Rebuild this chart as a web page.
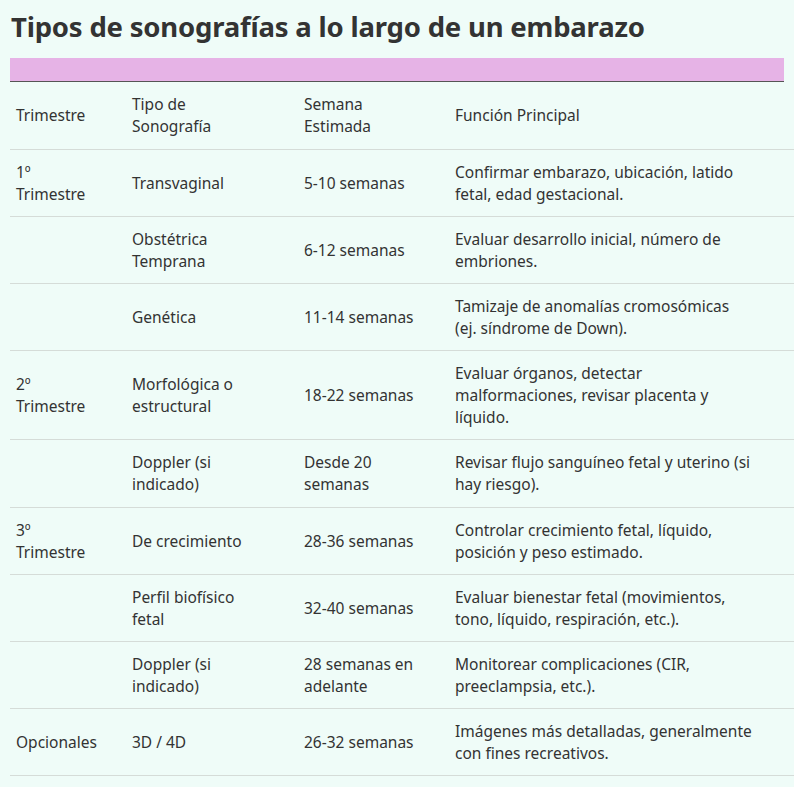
<!DOCTYPE html>
<html><head><meta charset="utf-8">
<script src="https://cdn.jsdelivr.net/npm/chart.js@4"></script>
<style>
html,body{margin:0;padding:0;background:#effcf8;width:794px;height:787px;overflow:hidden;font-family:"Noto Sans",sans-serif;color:#333;}
h1{position:absolute;left:11px;top:8px;margin:0;font-size:27.5px;font-weight:700;color:#333;letter-spacing:-0.2px}
#band{position:absolute;left:10px;top:58px;width:774px;height:23px;background:#e6b3e6;border-bottom:1px solid #555}
table{position:absolute;left:10px;top:82px;width:774px;border-collapse:collapse;table-layout:fixed;font-size:15.5px;line-height:22px}
td{border-bottom:1px solid #d5dcd8;padding:0 0 0 6px;vertical-align:middle}
</style></head><body>
<h1>Tipos de sonografías a lo largo de un embarazo</h1>
<div id="band"></div>
<table id="t"></table>
<script>
const headers=["Trimestre","Tipo de<br>Sonografía","Semana<br>Estimada","Función Principal"];
const trimestres=["1º<br>Trimestre","","","2º<br>Trimestre","","3º<br>Trimestre","","","Opcionales"];
const tipos=["Transvaginal","Obstétrica<br>Temprana","Genética","Morfológica o<br>estructural","Doppler (si<br>indicado)","De crecimiento","Perfil biofísico<br>fetal","Doppler (si<br>indicado)","3D / 4D"];
const semanas=["5-10 semanas","6-12 semanas","11-14 semanas","18-22 semanas","Desde 20<br>semanas","28-36 semanas","32-40 semanas","28 semanas en<br>adelante","26-32 semanas"];
const funciones=["Confirmar embarazo, ubicación, latido<br>fetal, edad gestacional.","Evaluar desarrollo inicial, número de<br>embriones.","Tamizaje de anomalías cromosómicas<br>(ej. síndrome de Down).","Evaluar órganos, detectar<br>malformaciones, revisar placenta y<br>líquido.","Revisar flujo sanguíneo fetal y uterino (si<br>hay riesgo).","Controlar crecimiento fetal, líquido,<br>posición y peso estimado.","Evaluar bienestar fetal (movimientos,<br>tono, líquido, respiración, etc.).","Monitorear complicaciones (CIR,<br>preeclampsia, etc.).","Imágenes más detalladas, generalmente<br>con fines recreativos."];
const heights=[67,67,67,67,89,68,67,67,67,67];
const widths=[110,166,145,353];
const t=document.getElementById('t');
function row(cells,h){const tr=document.createElement('tr');tr.style.height=h+'px';cells.forEach((c,i)=>{const td=document.createElement('td');td.innerHTML=c;td.style.width=widths[i]+'px';tr.appendChild(td);});t.appendChild(tr);}
row(headers,heights[0]);
tipos.forEach((_,i)=>row([trimestres[i],tipos[i],semanas[i],funciones[i]],heights[i+1]));
</script>
</body></html>
